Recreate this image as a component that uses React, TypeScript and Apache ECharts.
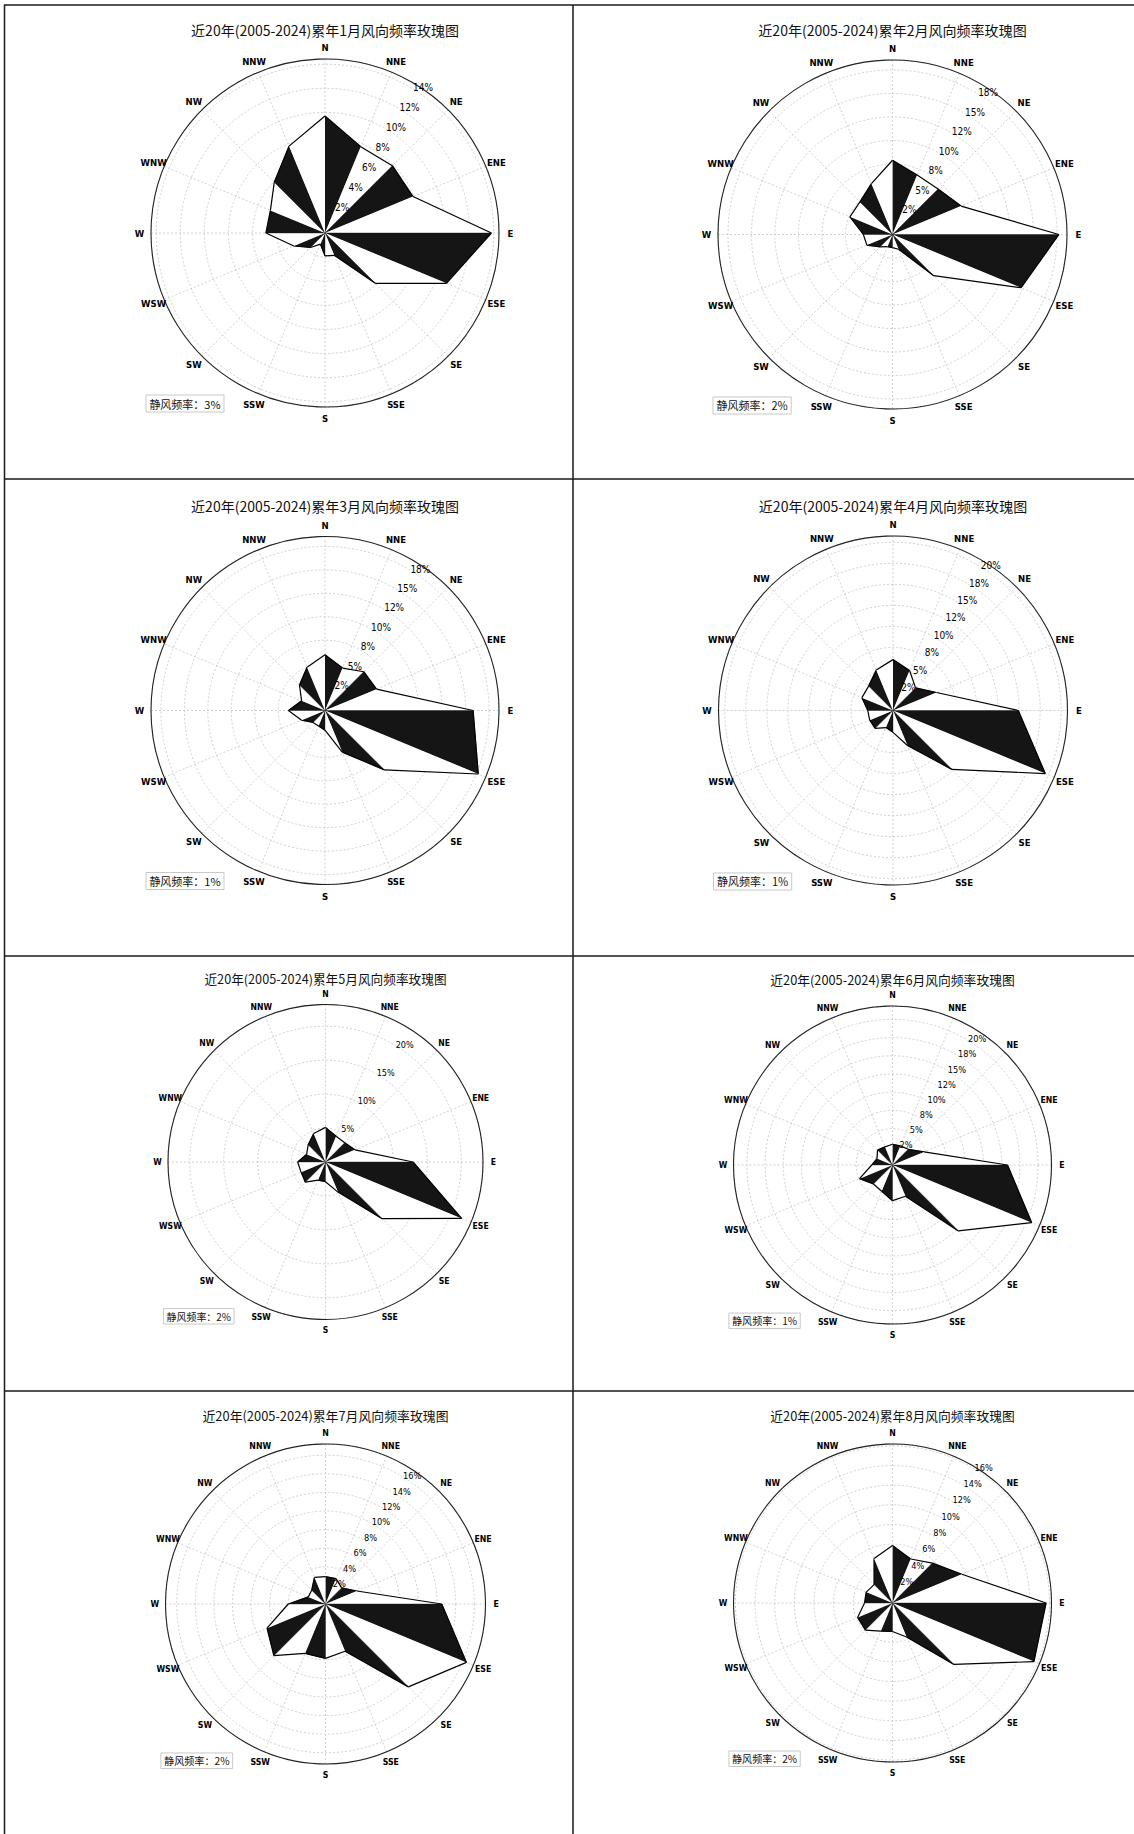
import React, { useEffect, useRef } from 'react';
import * as echarts from 'echarts';

// ---------- data ----------
const directions = ['N', 'NNE', 'NE', 'ENE', 'E', 'ESE', 'SE', 'SSE', 'S', 'SSW', 'SW', 'WSW', 'W', 'WNW', 'NW', 'NNW'];
const monthNumbers = [1, 2, 3, 4, 5, 6, 7, 8];

const janFreq = [9.7, 7.75, 7.9, 7.9, 13.8, 10.9, 5.9, 2.0, 1.9, 1.0, 1.7, 2.8, 4.9, 4.9, 5.95, 7.8];
const febFreq = [7.9, 6.85, 6.85, 7.9, 17.7, 14.8, 6.2, 1.7, 1.4, 1.4, 1.85, 2.95, 3.1, 4.9, 4.9, 5.85];
const marFreq = [5.95, 4.9, 5.85, 5.95, 15.8, 17.7, 8.95, 4.8, 2.1, 1.8, 1.8, 2.7, 3.9, 2.7, 3.85, 5.0];
const aprFreq = [6.05, 5.15, 3.8, 5.6, 14.9, 19.6, 9.9, 4.5, 2.6, 2.2, 3.0, 3.0, 3.0, 4.0, 4.1, 5.2];
const mayFreq = [5.1, 4.1, 4.0, 4.7, 12.9, 21.7, 11.8, 4.8, 2.9, 2.9, 4.2, 3.9, 4.1, 3.0, 3.6, 4.55];
const junFreq = [2.85, 2.85, 3.05, 4.7, 15.8, 20.7, 12.8, 4.65, 4.9, 3.9, 3.7, 4.9, 2.85, 2.3, 2.9, 2.7];
const julFreq = [2.95, 2.95, 2.45, 3.65, 12.5, 16.4, 12.6, 5.5, 5.85, 5.75, 7.85, 6.8, 4.0, 2.0, 2.1, 3.1];
const augFreq = [5.85, 4.85, 5.75, 7.65, 15.65, 15.6, 8.85, 3.75, 2.9, 3.1, 3.9, 3.85, 2.85, 2.9, 2.65, 4.9];
const monthFreqs = [janFreq, febFreq, marFreq, aprFreq, mayFreq, junFreq, julFreq, augFreq];

const calmFreq = [3, 2, 1, 1, 2, 1, 2, 2];
const radiusMax = [14.43, 18.56, 18.56, 20.75, 23.2, 21.84, 17.2, 16.2];
const radiusInterval = [2, 2.5, 2.5, 2.5, 5, 2.5, 2, 2];

// ---------- layout ----------
const panelCenters = [
  [325, 233], [892.5, 234.5],
  [325, 710.5], [893, 710.5],
  [325.5, 1162], [892.5, 1165],
  [325.5, 1604], [892.5, 1603],
];
const panelRadius = [174, 174.5, 174, 174.5, 157.5, 159, 160, 159];
const titleY = [32, 32, 507.5, 507.5, 980, 981, 1417, 1417];

const W = 1134;
const H = 1834;
const LATIN = "'Liberation Sans Narrow', 'DejaVu Sans Condensed', 'Liberation Sans', sans-serif";
const CJK = "'Noto Sans CJK SC', 'Noto Sans', sans-serif";

function pctLabel(v: number): string {
  const f = Math.floor(v + 1e-9);
  const d = v - f;
  let r: number;
  if (Math.abs(d - 0.5) < 1e-6) r = f % 2 === 0 ? f : f + 1;
  else r = Math.round(v);
  return r + '%';
}

function buildOption() {
  const polar: any[] = [];
  const angleAxis: any[] = [];
  const radiusAxis: any[] = [];
  const series: any[] = [];
  const title: any[] = [];
  const graphic: any[] = [];

  monthFreqs.forEach((freq, k) => {
    const [cx, cy] = panelCenters[k];
    const R = panelRadius[k];
    const s = R / 174;
    const off = 6.5 * s;

    // main polar
    polar.push({ center: [cx, cy], radius: [0, R] });
    angleAxis.push({
      polarIndex: 2 * k,
      type: 'value',
      min: 0,
      max: 360,
      interval: 22.5,
      startAngle: 90,
      clockwise: true,
      z: 1,
      axisLine: { show: true, lineStyle: { color: '#222', width: 1.1 } },
      axisTick: { show: false },
      axisLabel: { show: false },
      splitLine: { show: true, lineStyle: { color: '#c4c4c4', width: 0.8, type: [2, 2] } },
    });
    radiusAxis.push({
      polarIndex: 2 * k,
      type: 'value',
      min: 0,
      max: radiusMax[k],
      interval: radiusInterval[k],
      z: 0,
      axisLine: { show: false },
      axisTick: { show: false },
      axisLabel: { show: false },
      splitLine: { show: true, showMaxLine: false, lineStyle: { color: '#c4c4c4', width: 0.8, type: [2, 2] } },
    });

    // label polar (radial tick labels along ~34deg from north)
    polar.push({ center: [cx, cy], radius: [off, R + off] });
    angleAxis.push({
      polarIndex: 2 * k + 1,
      type: 'value',
      min: 0,
      max: 360,
      startAngle: 56,
      show: false,
    });
    radiusAxis.push({
      polarIndex: 2 * k + 1,
      type: 'value',
      min: 0,
      max: radiusMax[k],
      interval: radiusInterval[k],
      z: 5,
      axisLine: { show: false },
      axisTick: { show: false },
      splitLine: { show: false },
      axisLabel: {
        show: true,
        margin: 0,
        rotate: 0,
        align: 'center',
        verticalAlign: 'middle',
        showMinLabel: false,
        showMaxLabel: false,
        color: '#000',
        fontSize: 10 * s,
        fontFamily: LATIN,
        formatter: (v: number) => (v <= 0 || v > radiusMax[k] - 1e-6 ? '' : pctLabel(v)),
      },
    });

    const data = freq.map((v, i) => [v, i * 22.5, freq[(i + 1) % 16], (i + 1) * 22.5, i]);
    series.push({
      type: 'custom',
      coordinateSystem: 'polar',
      polarIndex: 2 * k,
      z: 2,
      silent: true,
      data,
      renderItem: (params: any, api: any) => {
        const r0 = api.value(0);
        const a0 = api.value(1);
        const r1 = api.value(2);
        const a1 = api.value(3);
        const idx = api.value(4);
        const c = api.coord([0, 0]);
        const p0 = api.coord([r0, a0]);
        const p1 = api.coord([r1, a1]);
        const dark = idx % 2 === 0;
        return {
          type: 'group',
          children: [
            {
              type: 'polygon',
              shape: { points: [c, p0, p1] },
              style: { fill: dark ? '#151515' : '#ffffff', stroke: dark ? '#151515' : null, lineWidth: 0.4 },
            },
            {
              type: 'line',
              shape: { x1: p0[0], y1: p0[1], x2: p1[0], y2: p1[1] },
              style: { stroke: '#000', lineWidth: 1.2 },
            },
          ],
        };
      },
    });

    // compass direction labels, centred just outside the outer circle
    const labelR = (radiusMax[k] * (R + 11.5 * s)) / R;
    const dirFont = 9.5 * s;
    series.push({
      type: 'custom',
      coordinateSystem: 'polar',
      polarIndex: 2 * k,
      z: 3,
      silent: true,
      clip: false,
      data: directions.map((d, i) => [labelR, i * 22.5, i]),
      renderItem: (params: any, api: any) => {
        const p = api.coord([api.value(0), api.value(1)]);
        const idx = api.value(2);
        return {
          type: 'text',
          x: p[0],
          y: p[1],
          style: {
            text: directions[idx],
            align: 'center',
            verticalAlign: 'middle',
            fontSize: dirFont,
            fontWeight: 'bold',
            fontFamily: LATIN,
            fill: '#000',
          },
        };
      },
    });

    const fs = 14 * s;
    title.push({
      text: `近20年(2005-2024)累年${monthNumbers[k]}月风向频率玫瑰图`,
      left: cx,
      top: titleY[k] - fs * 0.62,
      textAlign: 'center',
      padding: 0,
      textStyle: { fontSize: fs, fontWeight: 'normal', color: '#111', fontFamily: CJK },
    });

    const bx = cx - 179 * s;
    const by = cy + 162 * s;
    const bw = 78 * s;
    const bh = 17 * s;
    graphic.push({
      type: 'rect',
      shape: { x: bx, y: by, width: bw, height: bh },
      style: { fill: '#fff', stroke: '#c8c8c8', lineWidth: 1 },
      z: 10,
    });
    graphic.push({
      type: 'text',
      x: bx + bw / 2,
      y: by + bh / 2,
      z: 11,
      style: {
        text: `静风频率：${calmFreq[k]}%`,
        fontSize: 11 * s,
        fontFamily: CJK,
        fill: '#111',
        align: 'center',
        verticalAlign: 'middle',
      },
    });
  });

  // table borders
  const lineStyle = { stroke: '#1a1a1a', lineWidth: 1.5 };
  const hLines = [5, 479, 956, 1391];
  hLines.forEach((y) => {
    graphic.push({ type: 'line', shape: { x1: 4, y1: y, x2: W, y2: y }, style: lineStyle, z: 12 });
  });
  [4.5, 573].forEach((x) => {
    graphic.push({ type: 'line', shape: { x1: x, y1: 5, x2: x, y2: H }, style: lineStyle, z: 12 });
  });

  return {
    animation: false,
    backgroundColor: '#ffffff',
    title,
    polar,
    angleAxis,
    radiusAxis,
    series,
    graphic,
  };
}

export default function App() {
  const ref = useRef<HTMLDivElement>(null);
  useEffect(() => {
    document.body.style.margin = '0';
    document.body.style.overflow = 'hidden';
    if (!ref.current) return;
    const chart = echarts.init(ref.current, undefined, { renderer: 'svg' });
    chart.setOption(buildOption() as any);
    return () => {
      chart.dispose();
    };
  }, []);
  return <div ref={ref} style={{ width: W, height: H, background: '#fff' }} />;
}
